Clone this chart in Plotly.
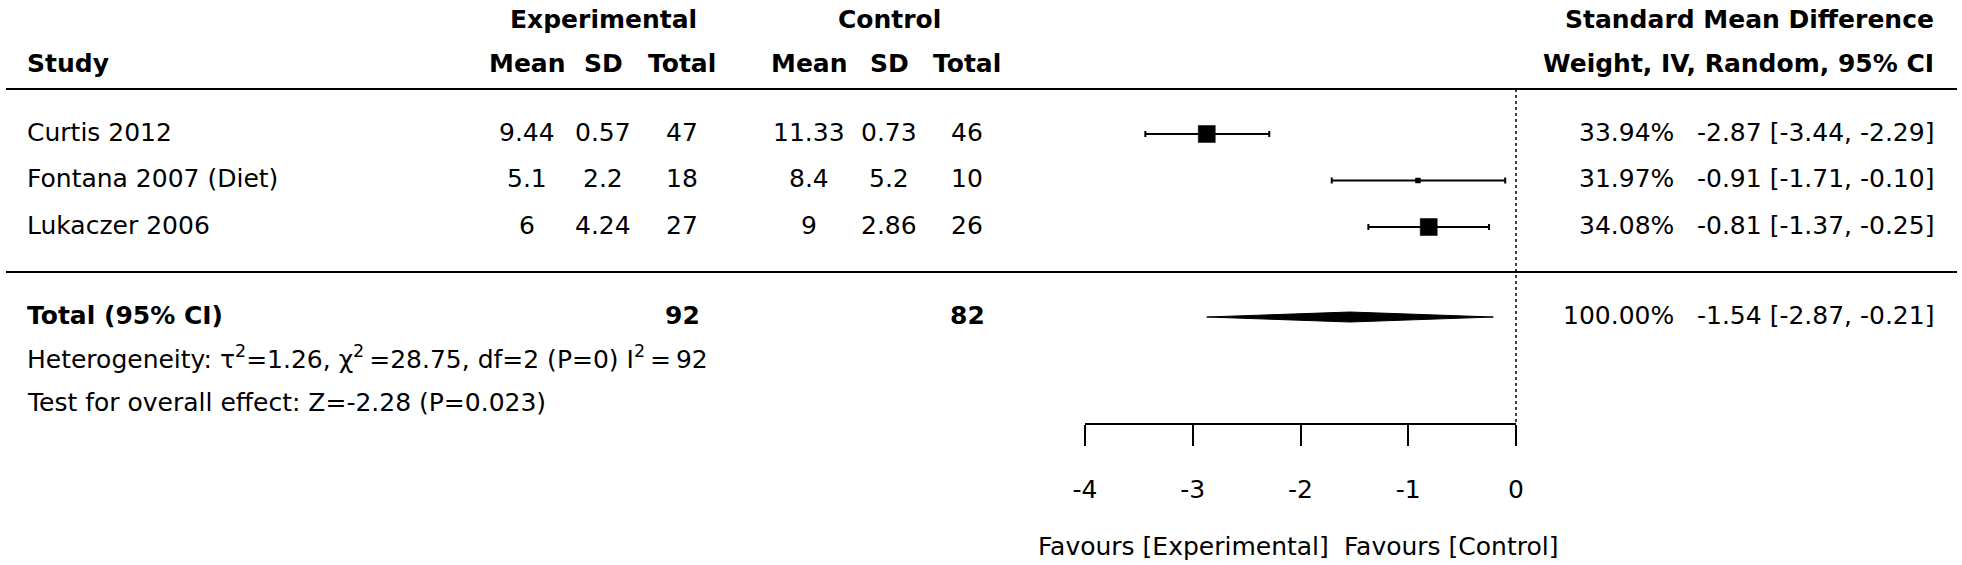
import plotly.graph_objects as go

# ---------------- data ----------------
studies = ["Curtis 2012", "Fontana 2007 (Diet)", "Lukaczer 2006"]
exp_mean = [9.44, 5.1, 6]
exp_sd = [0.57, 2.2, 4.24]
exp_n = [47, 18, 27]
ctrl_mean = [11.33, 8.4, 9]
ctrl_sd = [0.73, 5.2, 2.86]
ctrl_n = [46, 10, 26]
weights = [33.94, 31.97, 34.08]
smd = [-2.87, -0.91, -0.81]
ci_low = [-3.44, -1.71, -1.37]
ci_high = [-2.29, -0.10, -0.25]

total_label = "Total (95% CI)"
total_exp_n = 92
total_ctrl_n = 82
total_weight = 100.00
total_smd = -1.54
total_low = -2.87
total_high = -0.21

heterogeneity = ("Heterogeneity: τ<sup>2</sup>=1.26, χ<sup>2</sup>\u2009=28.75, "
                 "df=2 (P=0) I<sup>2</sup>\u2009=\u200992")
overall_effect = "Test for overall effect: Z=-2.28 (P=0.023)"

axis_ticks = [-4, -3, -2, -1, 0]
favours_left = "Favours [Experimental]"
favours_right = "Favours [Control]"

# ---------------- layout / style (pixels) ----------------
W, H = 1962, 565
FONT = "DejaVu Sans"
FS = 25
AX_L_PX, AX_R_PX = 1085, 1516          # pixel span of the drawn scale
AXIS_Y = 424
unit = (AX_R_PX - AX_L_PX) / (axis_ticks[-1] - axis_ticks[0])
data_range = [axis_ticks[0] - AX_L_PX / unit, axis_ticks[-1] + (W - AX_R_PX) / unit]

HEAD1_Y, HEAD2_Y = 19, 63
TOP_LINE_Y = 89
ROW0_Y, ROW_STEP = 134, 46.5
row_y = [ROW0_Y + i * ROW_STEP for i in range(len(studies))]
TEXT_DY = -2
MID_LINE_Y = 272
TOTAL_Y = 317
HET_Y, TEST_Y = 357, 402
FAV_Y = 546
box_sizes = [17, 5, 17]
DIAMOND_HALF_H = 5

COL_STUDY = 26
COL_EM, COL_ESD, COL_EN = 527, 603, 682
COL_CM, COL_CSD, COL_CN = 809, 889, 967
COL_W_RIGHT = 1675
COL_CI_RIGHT = 1935

fig = go.Figure()

# null line at 0
fig.add_trace(go.Scatter(x=[0, 0], y=[TOP_LINE_Y, AXIS_Y], mode="lines",
                         line=dict(color="black", width=1.5, dash="3px,3px"),
                         hoverinfo="skip", showlegend=False))

# study CIs and boxes
fig.add_trace(go.Scatter(
    x=smd, y=row_y, mode="markers",
    marker=dict(symbol="square", size=box_sizes, color="#000000", opacity=1,
                line=dict(width=0.5, color="#000000")),
    error_x=dict(type="data", symmetric=False,
                 array=[h - s for h, s in zip(ci_high, smd)],
                 arrayminus=[s - l for s, l in zip(smd, ci_low)],
                 color="#000000", thickness=2, width=3),
    hoverinfo="skip", showlegend=False))

# pooled diamond
fig.add_trace(go.Scatter(
    x=[total_low, total_smd, total_high, total_smd, total_low],
    y=[TOTAL_Y, TOTAL_Y - DIAMOND_HALF_H, TOTAL_Y, TOTAL_Y + DIAMOND_HALF_H, TOTAL_Y],
    mode="lines", fill="toself", fillcolor="black",
    line=dict(color="black", width=1), hoverinfo="skip", showlegend=False))

# invisible trace to materialise the scale axis
fig.add_trace(go.Scatter(x=axis_ticks, y=[AXIS_Y] * len(axis_ticks), xaxis="x2", yaxis="y",
                         mode="markers", marker=dict(opacity=0), hoverinfo="skip",
                         showlegend=False))

ann = []


def txt(xpx, y, text, anchor="center", bold=False):
    if bold:
        text = "<b>" + text + "</b>"
    ann.append(dict(x=xpx / W, xref="paper", y=y, yref="y", text=text, showarrow=False,
                    xanchor=anchor, yanchor="middle", borderpad=0,
                    font=dict(family=FONT, size=FS, color="black")))


def fmt(v):
    return f"{v:g}"


# headers
txt(COL_ESD, HEAD1_Y, "Experimental", bold=True)
txt(COL_CSD, HEAD1_Y, "Control", bold=True)
txt(COL_CI_RIGHT, HEAD1_Y, "Standard Mean Difference", "right", bold=True)
txt(COL_STUDY, HEAD2_Y, "Study", "left", bold=True)
for cx, lab in [(COL_EM, "Mean"), (COL_ESD, "SD"), (COL_EN, "Total"),
                (COL_CM, "Mean"), (COL_CSD, "SD"), (COL_CN, "Total")]:
    txt(cx, HEAD2_Y, lab, bold=True)
txt(COL_CI_RIGHT, HEAD2_Y, "Weight, IV, Random, 95% CI", "right", bold=True)

# study rows
for i, name in enumerate(studies):
    y = row_y[i] + TEXT_DY
    txt(COL_STUDY, y, name, "left")
    txt(COL_EM, y, fmt(exp_mean[i]))
    txt(COL_ESD, y, fmt(exp_sd[i]))
    txt(COL_EN, y, str(exp_n[i]))
    txt(COL_CM, y, fmt(ctrl_mean[i]))
    txt(COL_CSD, y, fmt(ctrl_sd[i]))
    txt(COL_CN, y, str(ctrl_n[i]))
    txt(COL_W_RIGHT, y, f"{weights[i]:.2f}%", "right")
    txt(COL_CI_RIGHT, y, f"{smd[i]:.2f} [{ci_low[i]:.2f}, {ci_high[i]:.2f}]", "right")

# total row
ty = TOTAL_Y + TEXT_DY
txt(COL_STUDY, ty, total_label, "left", bold=True)
txt(COL_EN, ty, str(total_exp_n), bold=True)
txt(COL_CN, ty, str(total_ctrl_n), bold=True)
txt(COL_W_RIGHT, ty, f"{total_weight:.2f}%", "right")
txt(COL_CI_RIGHT, ty, f"{total_smd:.2f} [{total_low:.2f}, {total_high:.2f}]", "right")
txt(COL_STUDY, HET_Y, heterogeneity, "left")
txt(COL_STUDY, TEST_Y, overall_effect, "left")

# favours labels
FAV_GAP_PX = 1336
txt(FAV_GAP_PX - 6, FAV_Y, favours_left, "right")
txt(FAV_GAP_PX + 7, FAV_Y, favours_right, "left")

shapes = [
    dict(type="line", xref="paper", yref="y", x0=6 / W, x1=1957 / W,
         y0=TOP_LINE_Y, y1=TOP_LINE_Y, line=dict(color="black", width=2)),
    dict(type="line", xref="paper", yref="y", x0=6 / W, x1=1957 / W,
         y0=MID_LINE_Y, y1=MID_LINE_Y, line=dict(color="black", width=2)),
]

fig.update_layout(
    width=W, height=H,
    margin=dict(l=0, r=0, t=0, b=0, pad=0, autoexpand=False),
    paper_bgcolor="white", plot_bgcolor="rgba(0,0,0,0)",
    showlegend=False,
    font=dict(family=FONT, size=FS, color="black"),
    xaxis=dict(domain=[0, 1], range=data_range, visible=False, fixedrange=True,
               automargin=False),
    xaxis2=dict(domain=[AX_L_PX / W, AX_R_PX / W], range=[axis_ticks[0], axis_ticks[-1]],
                anchor="free", position=1 - AXIS_Y / H, side="bottom",
                showline=True, linecolor="black", linewidth=2,
                ticks="outside", ticklen=21, tickwidth=2, tickcolor="black",
                tickvals=axis_ticks, ticktext=[str(t) for t in axis_ticks],
                tickfont=dict(family=FONT, size=FS, color="black"),
                ticklabelstandoff=22, automargin=False,
                showgrid=False, zeroline=False, fixedrange=True),
    yaxis=dict(domain=[0, 1], range=[H, 0], visible=False, fixedrange=True,
               automargin=False),
    annotations=ann,
    shapes=shapes,
)

fig.write_html("out.html", config={"displayModeBar": False},
               post_script="document.body.style.margin='0px';document.body.style.overflow='hidden';")
